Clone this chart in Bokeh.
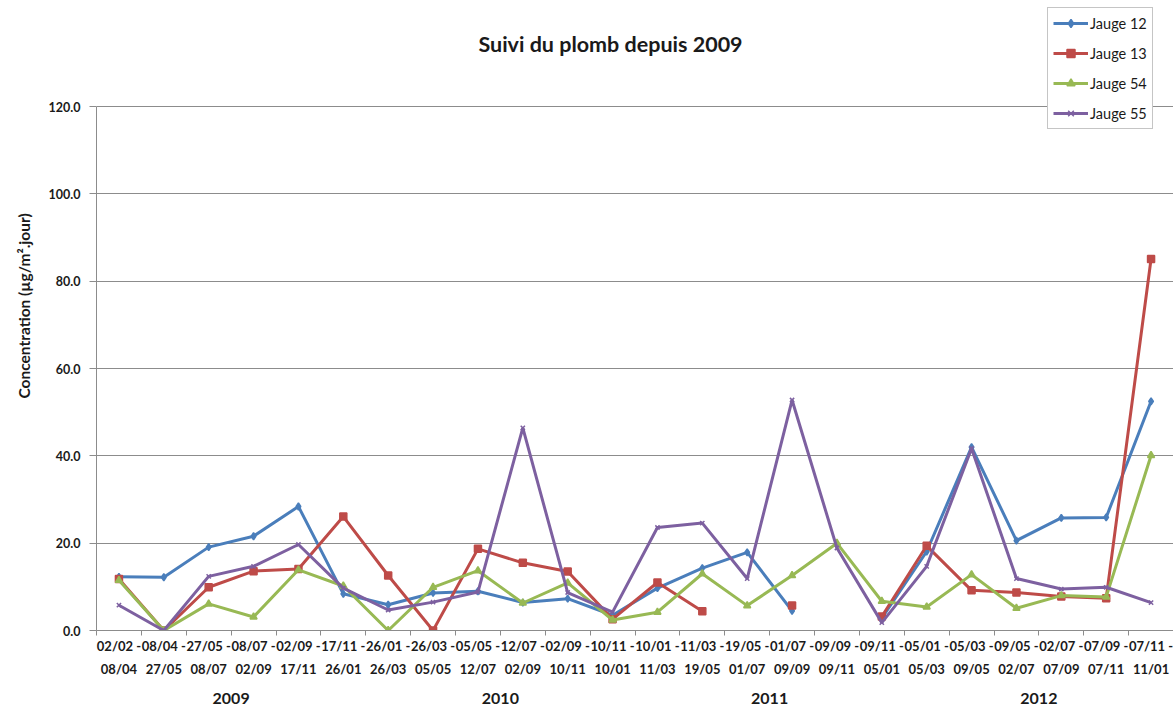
import math
from bokeh.plotting import figure
from bokeh.models import (Range1d, FixedTicker, LinearAxis, Title, Legend, LegendItem,
                          NumeralTickFormatter, Label)
from bokeh.embed import file_html
from bokeh.resources import INLINE

nan = float("nan")

# ---- data -------------------------------------------------------------
period_start = ["02/02", "08/04", "27/05", "08/07", "02/09", "17/11", "26/01", "26/03",
                "05/05", "12/07", "02/09", "10/11", "10/01", "11/03", "19/05", "01/07",
                "09/09", "09/11", "05/01", "05/03", "09/05", "02/07", "07/09", "07/11"]
period_end = ["08/04", "27/05", "08/07", "02/09", "17/11", "26/01", "26/03", "05/05",
              "12/07", "02/09", "10/11", "10/01", "11/03", "19/05", "01/07", "09/09",
              "09/11", "05/01", "05/03", "09/05", "02/07", "07/09", "07/11", "11/01"]
years = ["2009"] * 6 + ["2010"] * 6 + ["2011"] * 6 + ["2012"] * 6

jauge_12 = [12.3, 12.2, 19.1, 21.6, 28.4, 8.4, 5.9, 8.6, 9.0, 6.4, 7.3, 3.5,
            9.7, 14.3, 17.9, 4.5, nan, 2.8, 18.1, 42.0, 20.6, 25.8, 25.9, 52.5]
jauge_13 = [11.8, 0.0, 9.9, 13.6, 14.1, 26.1, 12.6, 0.0, 18.7, 15.5, 13.5, 2.6,
            11.0, 4.4, nan, 5.7, nan, 3.2, 19.4, 9.2, 8.7, 7.8, 7.4, 85.1]
jauge_54 = [11.5, 0.0, 6.1, 3.1, 13.9, 10.2, 0.0, 9.9, 13.7, 6.3, 10.9, 2.4,
            4.2, 13.0, 5.7, 12.6, 20.0, 6.7, 5.4, 12.8, 5.1, 8.0, 7.7, 40.1]
jauge_55 = [5.8, 0.0, 12.4, 14.7, 19.7, 9.7, 4.7, 6.5, 8.8, 46.4, 8.7, 4.2,
            23.6, 24.6, 11.9, 52.8, 18.9, 1.8, 14.7, 41.7, 11.9, 9.5, 9.9, 6.4]

series_names = ["Jauge 12", "Jauge 13", "Jauge 54", "Jauge 55"]
series_values = [jauge_12, jauge_13, jauge_54, jauge_55]
y_ticks = [0, 20, 40, 60, 80, 100, 120]

title_text = "Suivi du plomb depuis 2009"
y_label_text = "Concentration (µg/m².jour)"

# ---- layout / styles --------------------------------------------------
W, H = 1173, 706
FRAME_LEFT = 96          # px
FRAME_BOTTOM = 629       # px from top
TOP_TICK_PX = 106        # where the highest tick sits (px from top)
frame_h = FRAME_BOTTOM   # frame runs from top of canvas
y_end = y_ticks[-1] * frame_h / (FRAME_BOTTOM - TOP_TICK_PX)

colors = ["#4A7EBB", "#BE4B48", "#98B954", "#7D60A0"]
markers = ["diamond", "square", "triangle", "x"]
marker_sizes = [7, 7, 7, 6]
FONT = "Lato"
GRID = "#8C8C8C"
TXT = "#1a1a1a"

n = len(period_start)
idx = list(range(n))

p = figure(width=W, height=H, output_backend="svg", toolbar_location=None,
           x_range=Range1d(-0.5, n - 0.5), y_range=Range1d(y_ticks[0], y_end),
           min_border_left=FRAME_LEFT, min_border_right=0, min_border_top=0,
           min_border_bottom=0)
p.outline_line_color = None
p.background_fill_color = "white"
p.border_fill_color = "white"

# grids
p.xgrid.visible = False
p.ygrid.grid_line_color = GRID
p.ygrid.grid_line_width = 1

# y axis
p.yaxis.ticker = FixedTicker(ticks=y_ticks)
p.yaxis.bounds = (y_ticks[0], y_ticks[-1])
p.yaxis.formatter = NumeralTickFormatter(format="0.0")
p.yaxis.axis_line_color = GRID
p.yaxis.major_tick_line_color = GRID
p.yaxis.major_tick_out = 7
p.yaxis.major_tick_in = 0
p.yaxis.minor_tick_line_color = None
p.yaxis.major_label_standoff = 9
p.yaxis.major_label_text_font = FONT
p.yaxis.major_label_text_font_style = "bold"
p.yaxis.major_label_text_font_size = "12.5px"
p.yaxis.major_label_text_color = TXT

ylab = Title(text=y_label_text, align="left", offset=232, vertical_align="top",
             text_font=FONT, text_font_style="bold", text_font_size="15.5px",
             text_color=TXT, standoff=22)
p.add_layout(ylab, "left")

# x axis (period labels)
xa = p.xaxis[0]
xa.ticker = FixedTicker(ticks=idx, minor_ticks=[i - 0.5 for i in range(n + 1)])
xa.major_label_overrides = {i: f"{s} -\n{e}" for i, (s, e) in enumerate(zip(period_start, period_end))}
xa.axis_line_color = GRID
xa.major_tick_line_color = None
xa.major_tick_out = 0
xa.major_tick_in = 0
xa.minor_tick_line_color = GRID
xa.minor_tick_out = 5
xa.minor_tick_in = 0
xa.major_label_standoff = 2
xa.major_label_text_font = FONT
xa.major_label_text_font_style = "bold"
xa.major_label_text_font_size = "13px"
xa.major_label_text_color = TXT
xa.major_label_text_line_height = 1.45

# year axis
year_order = []
for y in years:
    if y not in year_order:
        year_order.append(y)
year_centers = [sum(i for i, y in enumerate(years) if y == yy) / years.count(yy) for yy in year_order]
year_axis = LinearAxis(ticker=FixedTicker(ticks=year_centers),
                       major_label_overrides={c: yy for c, yy in zip(year_centers, year_order)},
                       axis_line_color=None, major_tick_line_color=None,
                       minor_tick_line_color=None, major_tick_out=0, major_tick_in=0,
                       major_label_standoff=13, major_label_text_font=FONT,
                       major_label_text_font_style="bold", major_label_text_font_size="16px",
                       major_label_text_color=TXT)
p.add_layout(year_axis, "below")

# title (inside the tall frame, above the top gridline)
title = Label(x=610 - FRAME_LEFT, y=FRAME_BOTTOM - 42, x_units="screen", y_units="screen",
              text=title_text, text_align="center", text_baseline="middle",
              text_font=FONT, text_font_style="bold", text_font_size="21.5px",
              text_color=TXT)
p.add_layout(title)

# series
items = []
for name, vals, c, m, ms in zip(series_names, series_values, colors, markers, marker_sizes):
    r1 = p.line(idx, vals, line_color=c, line_width=3)
    r2 = p.scatter(idx, vals, marker=m, size=ms, fill_color=c, line_color=c, line_width=1.5)
    items.append(LegendItem(label=name, renderers=[r1, r2]))

legend = Legend(items=items, location=(1047 - FRAME_LEFT, FRAME_BOTTOM - 128),
                glyph_width=35, glyph_height=20, spacing=10, padding=5, margin=0,
                label_standoff=2, label_text_font=FONT, label_text_font_size="14.5px",
                label_text_color=TXT, border_line_color="#8C8C8C", border_line_width=1,
                background_fill_color="white", background_fill_alpha=1.0)
p.add_layout(legend)

open("out.html", "w").write(file_html(p, INLINE))
